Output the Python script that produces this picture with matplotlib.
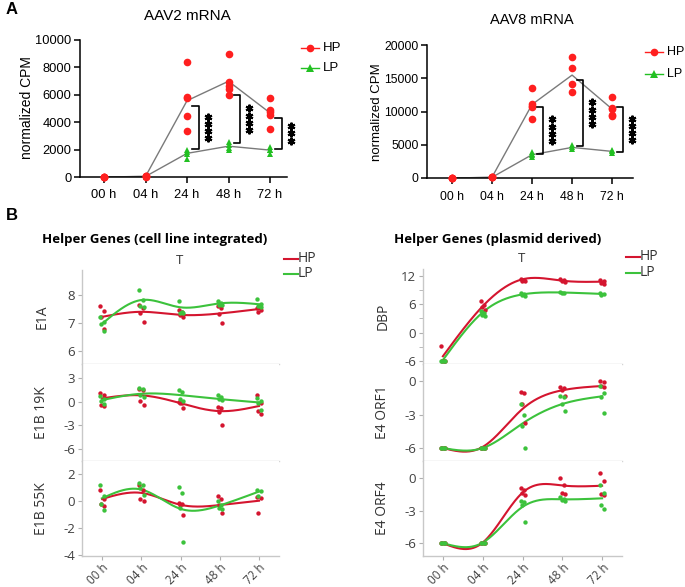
import numpy as np
import matplotlib
matplotlib.use('Agg')
import matplotlib.pyplot as plt
from matplotlib.lines import Line2D
from matplotlib.transforms import offset_copy

W, H = 685, 587

time_labels = ['00 h', '04 h', '24 h', '48 h', '72 h']

# ---- panel A: AAV mRNA (normalized CPM), replicates per time point
aav2_hp = [[0, 0, 0, 0], [40, 60, 50, 30], [8400, 5850, 5800, 4450, 3350],
           [8950, 6950, 6650, 6450, 5950], [5750, 4900, 4750, 4500, 3500]]
aav2_lp = [[0, 0, 0, 0], [30, 40, 50, 40], [2000, 1850, 1700, 1350],
           [2550, 2350, 2150, 1950], [2200, 2000, 1950, 1700]]
aav2_sig = [4, 4, 3]  # number of stars
aav2_sig_top = [5200, 5950, 4340]
aav2_sig_bottom = [2020, 2490, 2020]

aav8_hp = [[0, 0, 0, 0], [100, 120, 80, 100], [13600, 11200, 10900, 10700, 8850],
           [18200, 16500, 14200, 13000], [12200, 10500, 10400, 9400, 9300]]
aav8_lp = [[0, 0, 0, 0], [80, 100, 90, 110], [3900, 3600, 3400, 3100],
           [4900, 4600, 4300], [4200, 4000, 3800]]
aav8_sig = [4, 4, 4]
aav8_sig_top = [10750, 14750, 10750]
aav8_sig_bottom = [3650, 4750, 3850]

# ---- panel B: helper gene expression (log scale), replicates + fitted curve values
e1a_hp = [[7.6, 7.42, 7.22, 6.8], [7.65, 7.55, 7.37, 7.03], [7.45, 7.38, 7.29, 7.2],
          [7.62, 7.52, 7.31, 7.01], [7.52, 7.45, 7.4]]
e1a_lp = [[7.2, 7.05, 6.95, 6.72], [8.18, 7.83, 7.62, 7.58], [7.77, 7.4, 7.37, 7.35],
          [7.78, 7.73, 7.66, 7.63], [7.87, 7.67, 7.6, 7.57]]
e1a_hp_fit = [7.22, 7.4, 7.29, 7.34, 7.5]
e1a_lp_fit = [6.97, 7.82, 7.56, 7.7, 7.67]

e1b19_hp = [[1.1, 0.8, -0.4, -0.6], [1.6, 1.45, 0.1, -0.45], [0.0, -0.15, -0.2, -0.85],
            [-0.7, -0.8, -1.3, -3.0], [0.8, -0.2, -1.2, -1.6]]
e1b19_lp = [[0.75, 0.3, 0.05, -0.25], [1.7, 1.55, 0.85, 0.6], [1.5, 1.17, 0.33, 0.08],
            [0.83, 0.58, 0.29, 0.2], [0.45, 0.1, -0.2, -1.05]]
e1b19_hp_fit = [0.42, 0.8, -0.2, -1.2, -0.55]
e1b19_lp_fit = [0.2, 1.0, 0.83, 0.33, -0.1]

e1b55_hp = [[0.85, 0.15, -0.25, -0.35], [1.15, 0.8, 0.15, 0.0], [-0.15, -0.25, -0.3, -1.05],
            [0.35, 0.15, -0.3, -0.9], [0.3, 0.25, -0.9]]
e1b55_lp = [[1.2, 0.4, -0.25, -0.65], [1.35, 1.2, 0.95, 0.45], [1.0, 0.6, -0.55, -3.05],
            [0.0, -0.3, -0.5, -0.6], [0.8, 0.75, 0.35]]
e1b55_hp_fit = [0.15, 0.6, -0.28, -0.3, 0.02]
e1b55_lp_fit = [0.2, 0.85, -0.58, -0.33, 0.7]

dbp_hp = [[-2.8, -6, -6, -6], [6.8, 5.9, 5.4, 4.9], [11.4, 11.2, 11.0, 10.9],
          [11.4, 11.1, 10.9, 10.7], [11.2, 10.9, 10.6, 10.3]]
dbp_lp = [[-6, -6, -6, -6], [4.5, 4.1, 3.8, 3.5], [8.5, 8.2, 8.0, 7.8],
          [8.6, 8.5, 8.4], [8.4, 8.2, 8.0]]
dbp_hp_fit = [-5.0, 5.6, 11.3, 11.0, 10.8]
dbp_lp_fit = [-5.8, 4.3, 8.1, 8.5, 8.2]

orf1_hp = [[-6, -6, -6, -6], [-6, -6, -6, -6], [-0.95, -1.05, -2.1, -3.8],
           [-0.5, -0.65, -0.8, -1.35], [0.0, -0.1, -0.45, -0.5]]
orf1_lp = [[-6, -6, -6, -6], [-6, -6, -6, -6], [-2.05, -3.05, -4.05, -6.0],
           [-1.3, -1.45, -2.1, -2.65], [-0.45, -1.1, -1.4, -2.9]]
orf1_hp_fit = [-6.0, -5.9, -2.5, -0.83, -0.45]
orf1_lp_fit = [-6.0, -6.0, -3.8, -2.06, -1.37]

orf4_hp = [[-6, -6, -6, -6], [-6, -6, -6, -6], [-0.9, -1.1, -1.35, -1.6],
           [0.0, -0.7, -1.35, -1.5], [0.45, -0.3, -1.45, -1.6]]
orf4_lp = [[-6, -6, -6, -6], [-6, -6, -6, -6], [-2.1, -2.25, -2.5, -4.05],
           [-1.8, -1.9, -2.0, -2.1], [-0.65, -1.35, -2.45, -2.9]]
orf4_hp_fit = [-6.0, -5.95, -1.36, -0.7, -0.72]
orf4_lp_fit = [-6.0, -5.95, -2.67, -1.97, -1.88]

# colours
A_RED = '#ff1f1f'
A_GREEN = '#22c022'
B_RED = '#d4152f'
B_GREEN = '#3cc23c'
GRID_GRAY = '#d4d4d4'
TEXT_GRAY = '#404040'

plt.rcParams['font.family'] = ['Liberation Sans', 'DejaVu Sans']

fig = plt.figure(figsize=(W / 100, H / 100), dpi=100)


def px_axes(left, top, right, bottom):
    # pixel box -> figure fraction rect
    return [left / W, 1 - bottom / H, (right - left) / W, (bottom - top) / H]


def natural_spline(y, n=200):
    y = np.asarray(y, float)
    k = len(y)
    A = np.zeros((k, k))
    d = np.zeros(k)
    A[0, 0] = A[-1, -1] = 1
    for i in range(1, k - 1):
        A[i, i - 1], A[i, i], A[i, i + 1] = 1, 4, 1
        d[i] = 6 * (y[i + 1] - 2 * y[i] + y[i - 1])
    M = np.linalg.solve(A, d)
    xs = np.linspace(0, k - 1, n)
    i = np.clip(np.floor(xs).astype(int), 0, k - 2)
    t = xs - i
    ys = (1 - t) * y[i] + t * y[i + 1] + M[i] / 6 * ((1 - t) ** 3 - (1 - t)) + M[i + 1] / 6 * (t ** 3 - t)
    return xs, ys


def panel_a(rect, hp, lp, sig, sig_top, sig_bot, ymax, ystep, xlim, fs):
    ax = fig.add_axes(rect)
    hp_mean = [np.mean(v) for v in hp]
    lp_mean = [np.mean(v) for v in lp]
    x = np.arange(len(time_labels))
    ax.plot(x, hp_mean, color='#7a7a7a', lw=1.0, zorder=2)
    ax.plot(x, lp_mean, color='#7a7a7a', lw=1.0, zorder=2)
    for i, v in enumerate(lp):
        ax.plot([i] * len(v), v, '^', color=A_GREEN, ms=5, mew=0, zorder=3, clip_on=False)
    for i, v in enumerate(hp):
        ax.plot([i] * len(v), v, 'o', color=A_RED, ms=5.5, mew=0, zorder=4, clip_on=False)
    for j, (n, t, b) in enumerate(zip(sig, sig_top, sig_bot)):
        xi = j + 2
        ax.plot([xi + 0.13, xi + 0.28, xi + 0.28, xi + 0.13], [t, t, b, b],
                color='black', lw=1.2, zorder=5)
        for k in range(n):
            tr = offset_copy(ax.transData, fig=fig, x=0, y=((n - 1) / 2 - k) * 7.2, units='dots')
            ax.plot([xi + 0.5], [(t + b) / 2], marker=(6, 2, 0), ms=5.5, mew=1.5,
                    color='black', transform=tr, clip_on=False)
    ax.set_xlim(*xlim)
    ax.set_ylim(0, ymax)
    ax.set_yticks(np.arange(0, ymax + 1, ystep))
    ax.set_xticks(x)
    ax.set_xticklabels(time_labels)
    for s in ['top', 'right']:
        ax.spines[s].set_visible(False)
    for s in ['left', 'bottom']:
        ax.spines[s].set_linewidth(1.1)
    ax.tick_params(direction='out', length=4, width=1.1, labelsize=fs)
    ax.tick_params(axis='x', pad=5)
    ax.tick_params(axis='y', pad=2)
    return ax


ax_a1 = panel_a(px_axes(80, 40, 287, 177), aav2_hp, aav2_lp, aav2_sig, aav2_sig_top,
                aav2_sig_bottom, 10000, 2000, (-0.58, 4.41), 9.3)
ax_a2 = panel_a(px_axes(427, 45, 633, 178), aav8_hp, aav8_lp, aav8_sig, aav8_sig_top,
                aav8_sig_bottom, 20000, 5000, (-0.62, 4.52), 8.8)

fig.text(187 / W, 1 - 16 / H, 'AAV2 mRNA', ha='center', va='center', fontsize=11)
fig.text(532 / W, 1 - 20 / H, 'AAV8 mRNA', ha='center', va='center', fontsize=10.5)
fig.text(27 / W, 1 - 108 / H, 'normalized CPM', rotation=90, ha='center', va='center', fontsize=10)
fig.text(377 / W, 1 - 112 / H, 'normalized CPM', rotation=90, ha='center', va='center', fontsize=9.5)


def legend_a(x, y0, y1, fs):
    for y, c, m, lab in [(y0, A_RED, 'o', 'HP'), (y1, A_GREEN, '^', 'LP')]:
        fig.add_artist(Line2D([x / W, (x + 18) / W], [1 - y / H, 1 - y / H], color=c, lw=1.0,
                              transform=fig.transFigure))
        fig.add_artist(Line2D([(x + 9) / W], [1 - y / H], color=c, marker=m, ms=5.5, mew=0,
                              transform=fig.transFigure))
        fig.text((x + 22) / W, 1 - y / H, lab, ha='left', va='center', fontsize=fs)


legend_a(301, 48, 68, 9.5)
legend_a(645, 52, 74, 9)

fig.text(6 / W, 1 - 9 / H, 'A', ha='left', va='center', fontsize=12, fontweight='bold')
fig.text(6 / W, 1 - 215 / H, 'B', ha='left', va='center', fontsize=12, fontweight='bold')

# ---- panel B
B_FONT = ['Open Sans', 'DejaVu Sans']
jit = [-0.05, 0.04, -0.02, 0.06, 0.01]


def panel_b(rect, hp, lp, hp_fit, lp_fit, ylim, ticks, minor, label, xlim, bottom):
    ax = fig.add_axes(rect)
    for vals, col in [(hp, B_RED), (lp, B_GREEN)]:
        for i, v in enumerate(vals):
            ax.scatter([i + jit[k % len(jit)] for k in range(len(v))], v, s=10, color=col,
                       linewidths=0, zorder=3, clip_on=False)
    for fit, col in [(hp_fit, B_RED), (lp_fit, B_GREEN)]:
        xs, ys = natural_spline(fit)
        ax.plot(xs, ys, color=col, lw=1.5, zorder=2)
    ax.set_xlim(*xlim)
    ax.set_ylim(*ylim)
    ax.set_yticks(ticks)
    ax.set_yticklabels([f'{t:g}' for t in ticks], family=B_FONT)
    if minor is not None:
        ax.set_yticks(minor, minor=True)
    ax.spines['top'].set_visible(False)
    ax.spines['right'].set_visible(False)
    ax.spines['left'].set_color('#c8c8c8')
    ax.spines['bottom'].set_color(GRID_GRAY if not bottom else '#c8c8c8')
    ax.spines['left'].set_linewidth(1.0)
    ax.spines['bottom'].set_linewidth(1.0)
    ax.tick_params(axis='y', which='both', direction='out', length=3, color='#b0b0b0',
                   labelsize=9.5, labelcolor=TEXT_GRAY, pad=2)
    ax.set_xticks(np.arange(len(time_labels)))
    if bottom:
        ax.set_xticklabels(time_labels, rotation=45, ha='right', rotation_mode='anchor',
                           family=B_FONT)
        ax.tick_params(axis='x', direction='out', length=3, color='#b0b0b0',
                       labelsize=8.4, labelcolor=TEXT_GRAY, pad=1)
    else:
        ax.tick_params(axis='x', length=0, labelbottom=False)
    ax.set_ylabel(label, family=B_FONT, fontsize=10, color='#333333')
    ax.yaxis.set_label_coords(-0.165, 0.5)
    return ax


left_x = (82, 279)
right_x = (423, 622)
lx = (-0.51, 4.51)
rx = (-0.5, 4.5)

panel_b(px_axes(left_x[0], 270, left_x[1], 364), e1a_hp, e1a_lp, e1a_hp_fit, e1a_lp_fit,
        (5.54, 8.89), [6, 7, 8], None, 'E1A', lx, False)
panel_b(px_axes(left_x[0], 364, left_x[1], 461), e1b19_hp, e1b19_lp, e1b19_hp_fit, e1b19_lp_fit,
        (-7.52, 4.77), [-6, -3, 0, 3], None, 'E1B 19K', lx, False)
panel_b(px_axes(left_x[0], 461, left_x[1], 556), e1b55_hp, e1b55_lp, e1b55_hp_fit, e1b55_lp_fit,
        (-4.07, 2.96), [-4, -2, 0, 2], None, 'E1B 55K', lx, True)

panel_b(px_axes(right_x[0], 269, right_x[1], 364), dbp_hp, dbp_lp, dbp_hp_fit, dbp_lp_fit,
        (-6.64, 13.48), [-6, 0, 6, 12], [-3, 3, 9], 'DBP', rx, False)
panel_b(px_axes(right_x[0], 364, right_x[1], 461), orf1_hp, orf1_lp, orf1_hp_fit, orf1_lp_fit,
        (-7.16, 1.52), [-6, -3, 0], None, 'E4 ORF1', rx, False)
panel_b(px_axes(right_x[0], 461, right_x[1], 556), orf4_hp, orf4_lp, orf4_hp_fit, orf4_lp_fit,
        (-7.18, 1.55), [-6, -3, 0], None, 'E4 ORF4', rx, True)

fig.text(155 / W, 1 - 240 / H, 'Helper Genes (cell line integrated)', ha='center', va='center',
         fontsize=9.5, fontweight='bold', family=B_FONT)
fig.text(498 / W, 1 - 239 / H, 'Helper Genes (plasmid derived)', ha='center', va='center',
         fontsize=9.5, fontweight='bold', family=B_FONT)
fig.text(180 / W, 1 - 261 / H, 'T', ha='center', va='center', fontsize=9.5, color='#333333',
         family=B_FONT)
fig.text(522 / W, 1 - 258 / H, 'T', ha='center', va='center', fontsize=9.5, color='#333333',
         family=B_FONT)


def legend_b(x, y0, y1):
    for y, c, lab in [(y0, B_RED, 'HP'), (y1, B_GREEN, 'LP')]:
        fig.add_artist(Line2D([x / W, (x + 14) / W], [1 - y / H, 1 - y / H], color=c, lw=1.5,
                              transform=fig.transFigure))
        fig.text((x + 14) / W, 1 - y / H, lab, ha='left', va='center', fontsize=10,
                 color='#333333', family=B_FONT)


legend_b(284, 259, 274)
legend_b(626, 257, 273)

fig.savefig('out.png', dpi=100)
